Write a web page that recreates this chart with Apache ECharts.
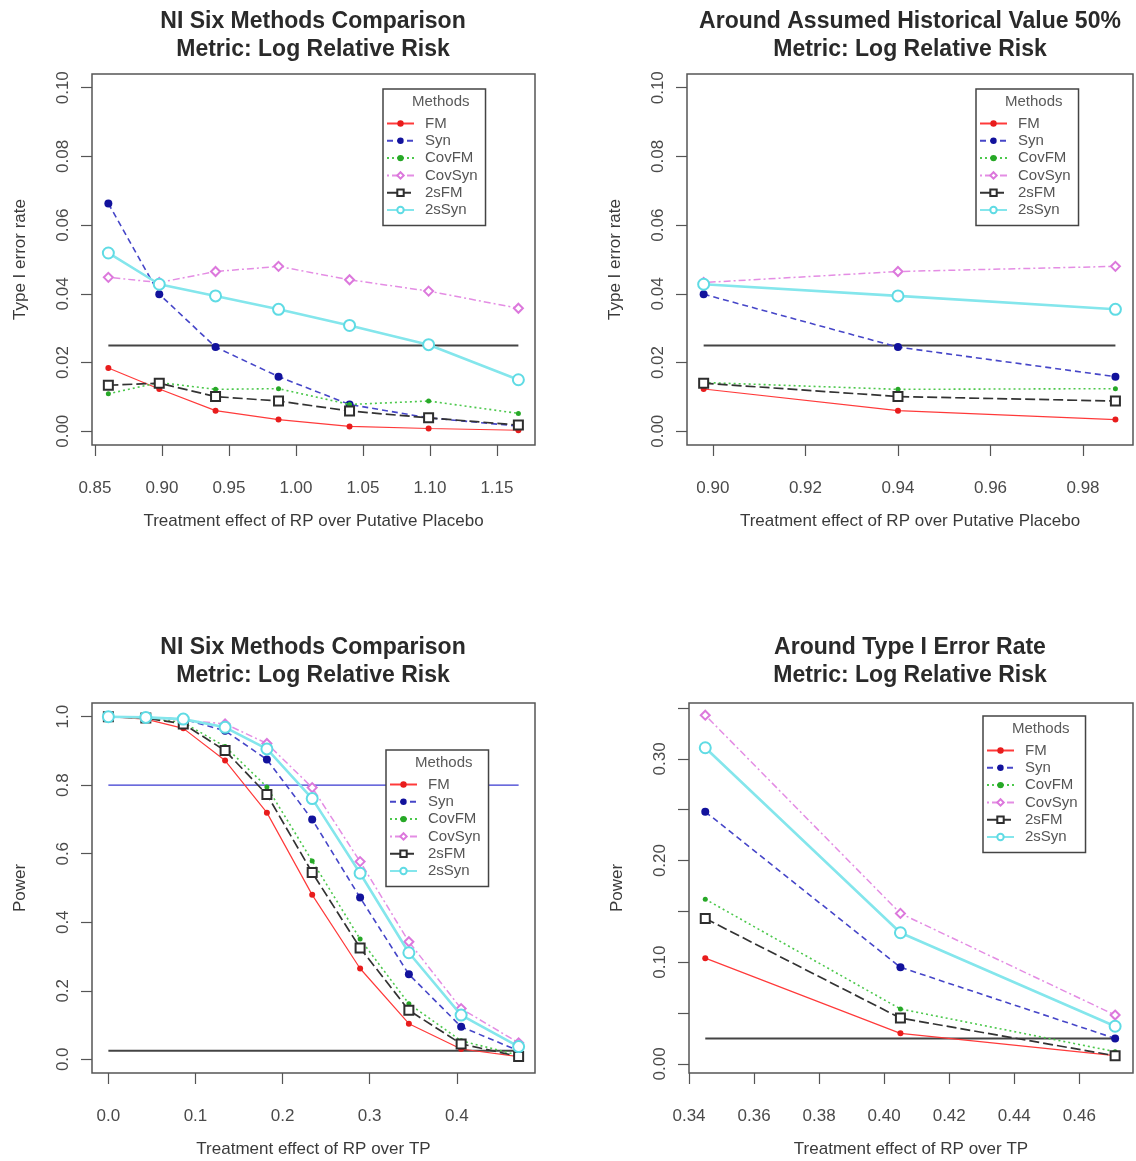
<!DOCTYPE html>
<html>
<head>
<meta charset="utf-8">
<script src="https://cdn.jsdelivr.net/npm/echarts@6/dist/echarts.min.js"></script>
<style>
html, body { margin: 0; padding: 0; background: #fff; }
#chart { width: 1136px; height: 1161px; }
</style>
</head>
<body>
<div id="chart"></div>
<script>
// Treatment effect of RP over putative placebo (top row)
const ppEffect = [0.86, 0.898, 0.94, 0.987, 1.04, 1.099, 1.166];
// Type I error rate per method
const t1FM     = [0.0184, 0.0123, 0.0060, 0.0034, 0.0014, 0.0008, 0.0003];
const t1Syn    = [0.0663, 0.0399, 0.0245, 0.0159, 0.0078, 0.0039, 0.0015];
const t1CovFM  = [0.0109, 0.0142, 0.0122, 0.0124, 0.0078, 0.0088, 0.0052];
const t1CovSyn = [0.0448, 0.0433, 0.0465, 0.0480, 0.0441, 0.0408, 0.0358];
const t12sFM   = [0.0134, 0.0140, 0.0101, 0.0088, 0.0059, 0.0039, 0.0018];
const t12sSyn  = [0.0519, 0.0428, 0.0394, 0.0355, 0.0308, 0.0252, 0.0150];

// Treatment effect of RP over TP (bottom row)
const tpEffect = [0, 0.043, 0.086, 0.134, 0.182, 0.234, 0.289, 0.345, 0.405, 0.471];
// Power per method
const pwFM     = [1.000, 0.993, 0.966, 0.872, 0.720, 0.480, 0.265, 0.104, 0.030, 0.008];
const pwSyn    = [1.000, 0.998, 0.993, 0.959, 0.875, 0.700, 0.472, 0.248, 0.095, 0.025];
const pwCovFM  = [1.000, 0.996, 0.983, 0.913, 0.795, 0.579, 0.351, 0.162, 0.054, 0.012];
const pwCovSyn = [1.000, 0.998, 0.990, 0.979, 0.922, 0.793, 0.577, 0.343, 0.148, 0.048];
const pw2sFM   = [1.000, 0.996, 0.979, 0.901, 0.773, 0.545, 0.325, 0.143, 0.045, 0.008];
const pw2sSyn  = [1.000, 0.998, 0.993, 0.969, 0.906, 0.761, 0.543, 0.311, 0.129, 0.037];

// Reference levels
const ALPHA = 0.025;
const POWER_TARGET = 0.8;

// Tick values
const ppTicks        = [0.85, 0.90, 0.95, 1.00, 1.05, 1.10, 1.15];
const histTicks      = [0.90, 0.92, 0.94, 0.96, 0.98];
const tpTicks        = [0.0, 0.1, 0.2, 0.3, 0.4];
const tailTpTicks    = [0.34, 0.36, 0.38, 0.40, 0.42, 0.44, 0.46];
const t1Ticks        = [0.00, 0.02, 0.04, 0.06, 0.08, 0.10];
const powerTicks     = [0.0, 0.2, 0.4, 0.6, 0.8, 1.0];
const tailPowerTicks = [0.00, 0.05, 0.10, 0.15, 0.20, 0.25, 0.30, 0.35];
const tailPowerLabels = [0.00, 0.10, 0.20, 0.30];

const methods = ['FM', 'Syn', 'CovFM', 'CovSyn', '2sFM', '2sSyn'];
const typeIByMethod = [t1FM, t1Syn, t1CovFM, t1CovSyn, t12sFM, t12sSyn];
const powerByMethod = [pwFM, pwSyn, pwCovFM, pwCovSyn, pw2sFM, pw2sSyn];

const FONT = "'Liberation Sans', Arial, Helvetica, sans-serif";

// Line / point appearance of each method
const look = {
  'FM':     { pt: '#e81c1c', ln: '#ff3a3a', dash: 'solid',      w: 1.2, sym: 'circle',       size: 6 },
  'Syn':    { pt: '#12129c', ln: '#4646c8', dash: [6, 4],       w: 1.6, sym: 'circle',       size: 8 },
  'CovFM':  { pt: '#27a827', ln: '#4cc84c', dash: [2, 3],       w: 1.6, sym: 'circle',       size: 5 },
  'CovSyn': { pt: '#dc78dc', ln: '#e48de4', dash: [2, 3, 7, 3], w: 1.5, sym: 'emptyDiamond', size: 9 },
  '2sFM':   { pt: '#2e2e2e', ln: '#333333', dash: [10, 4],      w: 1.7, sym: 'emptyRect',    size: 9 },
  '2sSyn':  { pt: '#5fdbe4', ln: '#84e6ec', dash: 'solid',      w: 2.6, sym: 'emptyCircle',  size: 11 }
};

// Panel frames
const panels = [
  { left: 92,  top: 74,  width: 443, height: 371, titleX: 313, titleY: 8 },
  { left: 687, top: 74,  width: 446, height: 371, titleX: 910, titleY: 8 },
  { left: 92,  top: 703, width: 443, height: 370, titleX: 313, titleY: 634 },
  { left: 689, top: 703, width: 444, height: 370, titleX: 910, titleY: 634 }
];
const legendBoxes = [
  { left: 383, top: 89 },
  { left: 976, top: 89 },
  { left: 386, top: 750 },
  { left: 983, top: 716 }
];
const titles = [
  'NI Six Methods Comparison\nMetric: Log Relative Risk',
  'Around Assumed Historical Value 50%\nMetric: Log Relative Risk',
  'NI Six Methods Comparison\nMetric: Log Relative Risk',
  'Around Type I Error Rate\nMetric: Log Relative Risk'
];

function pairs(xs, ys) { return xs.map((x, i) => [x, ys[i]]); }

function methodSeries(g, xs, yList) {
  return methods.map((m, k) => {
    const s = look[m];
    return {
      type: 'line', name: m, xAxisIndex: g, yAxisIndex: g,
      data: pairs(xs, yList[k]),
      symbol: s.sym, symbolSize: s.size,
      lineStyle: { color: s.ln, width: s.w, type: s.dash },
      itemStyle: { color: s.pt, borderWidth: 1.5 },
      z: 3 + k, emphasis: { disabled: true }
    };
  });
}

function refLine(g, xs, level, color, width) {
  return {
    type: 'line', name: 'ref' + g + '_' + level, xAxisIndex: g, yAxisIndex: g,
    data: [[xs[0], level], [xs[xs.length - 1], level]],
    symbol: 'none', lineStyle: { color: color, width: width, type: 'solid' },
    silent: true, z: 2
  };
}

function xAxisFor(g, min, max, ticks, digits, name) {
  return {
    type: 'value', gridIndex: g, min: min, max: max, position: 'bottom',
    axisLine: { show: false, onZero: false },
    axisTick: { show: true, length: 11, customValues: ticks, lineStyle: { color: '#555', width: 1.2 } },
    axisLabel: { customValues: ticks, margin: 35, fontSize: 17, color: '#4a4a4a', fontFamily: FONT,
                 formatter: v => v.toFixed(digits) },
    splitLine: { show: false },
    name: name, nameLocation: 'middle', nameGap: 68,
    nameTextStyle: { fontSize: 17, color: '#3a3a3a', fontFamily: FONT }
  };
}

function yAxisFor(g, min, max, ticks, labels, digits, name) {
  return {
    type: 'value', gridIndex: g, min: min, max: max, position: 'left',
    axisLine: { show: false, onZero: false },
    axisTick: { show: true, length: 11, customValues: ticks, lineStyle: { color: '#555', width: 1.2 } },
    axisLabel: { customValues: labels, rotate: 90, margin: 20, fontSize: 17, color: '#4a4a4a', fontFamily: FONT,
                 formatter: v => v.toFixed(digits) },
    splitLine: { show: false },
    name: name, nameLocation: 'middle', nameGap: 63,
    nameTextStyle: { fontSize: 17, color: '#3a3a3a', fontFamily: FONT }
  };
}

// Top-right zooms on effects 2..4, bottom-right on the three largest effects
const histIdx = [1, 4];
const tailIdx = [7, 10];
const histEffect = ppEffect.slice(histIdx[0], histIdx[1]);
const tailEffect = tpEffect.slice(tailIdx[0], tailIdx[1]);

const series = [
  refLine(0, ppEffect, ALPHA, '#444', 2),
  ...methodSeries(0, ppEffect, typeIByMethod),
  refLine(1, histEffect, ALPHA, '#444', 2),
  ...methodSeries(1, histEffect, typeIByMethod.map(a => a.slice(histIdx[0], histIdx[1]))),
  refLine(2, tpEffect, POWER_TARGET, '#3838d0', 1.2),
  refLine(2, tpEffect, ALPHA, '#444', 2),
  ...methodSeries(2, tpEffect, powerByMethod),
  refLine(3, tailEffect, ALPHA, '#444', 2),
  ...methodSeries(3, tailEffect, powerByMethod.map(a => a.slice(tailIdx[0], tailIdx[1])))
];

const option = {
  animation: false,
  backgroundColor: '#fff',
  textStyle: { fontFamily: FONT },
  title: panels.map((p, i) => ({
    text: titles[i], left: p.titleX, top: p.titleY, textAlign: 'center', padding: 0,
    textStyle: { fontSize: 23, fontWeight: 'bold', color: '#2a2a2a', lineHeight: 28, fontFamily: FONT }
  })),
  grid: panels.map(p => ({
    left: p.left, top: p.top, width: p.width, height: p.height,
    show: true, borderColor: '#555', borderWidth: 1.5, backgroundColor: 'transparent', containLabel: false
  })),
  xAxis: [
    xAxisFor(0, 0.8478, 1.1784, ppTicks, 2, 'Treatment effect of RP over Putative Placebo'),
    xAxisFor(1, 0.8944, 0.9908, histTicks, 2, 'Treatment effect of RP over Putative Placebo'),
    xAxisFor(2, -0.0188, 0.4898, tpTicks, 1, 'Treatment effect of RP over TP'),
    xAxisFor(3, 0.3400, 0.4765, tailTpTicks, 2, 'Treatment effect of RP over TP')
  ],
  yAxis: [
    yAxisFor(0, -0.004, 0.104, t1Ticks, t1Ticks, 2, 'Type I error rate'),
    yAxisFor(1, -0.004, 0.104, t1Ticks, t1Ticks, 2, 'Type I error rate'),
    yAxisFor(2, -0.04, 1.04, powerTicks, powerTicks, 1, 'Power'),
    yAxisFor(3, -0.009, 0.355, tailPowerTicks, tailPowerLabels, 2, 'Power')
  ],
  legend: legendBoxes.map(b => ({
    data: methods, orient: 'vertical', left: b.left, top: b.top,
    padding: [27, 8, 8, 3], itemWidth: 27, itemHeight: 8, itemGap: 2.3,
    borderColor: '#444', borderWidth: 1.5, backgroundColor: '#fff',
    selectedMode: false,
    textStyle: { fontSize: 15, color: '#555', fontFamily: FONT, padding: [0, 0, 0, 6] }
  })),
  graphic: legendBoxes.map(b => ({
    type: 'text', left: b.left + 29, top: b.top + 5, z: 100,
    style: { text: 'Methods', fontSize: 15, fill: '#5a5a5a', fontFamily: FONT }
  })),
  series: series
};

const chart = echarts.init(document.getElementById('chart'), null, { renderer: 'canvas' });
chart.setOption(option);
</script>
</body>
</html>
